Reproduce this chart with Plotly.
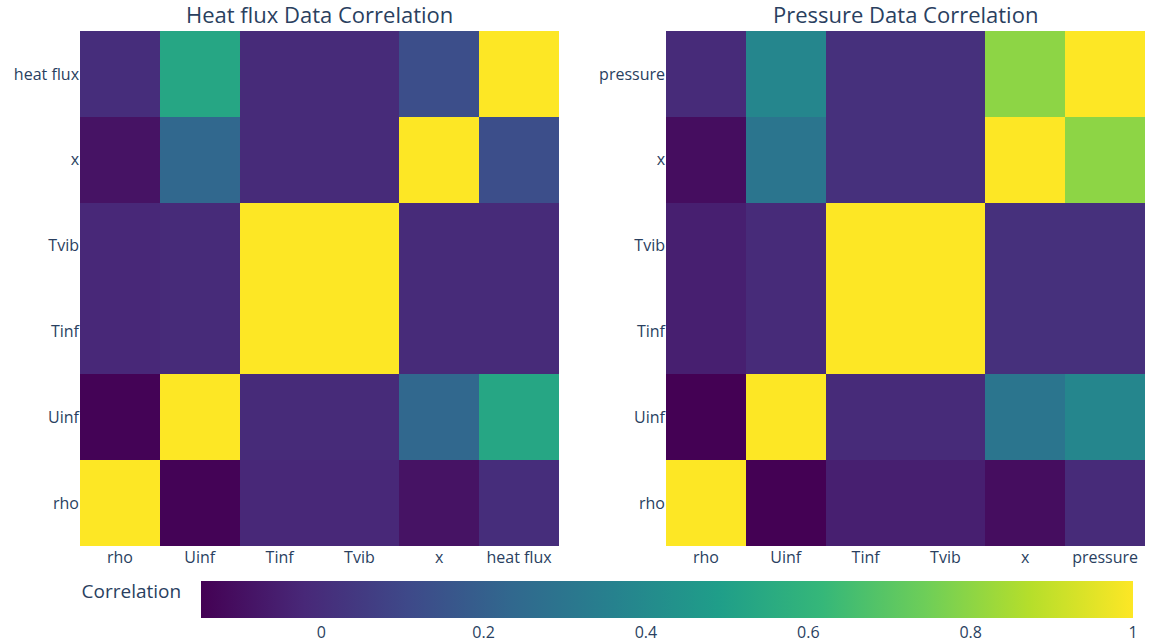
import plotly.graph_objects as go
from plotly.subplots import make_subplots

# Variables in each correlation matrix
heat_vars = ["rho", "Uinf", "Tinf", "Tvib", "x", "heat flux"]
pres_vars = ["rho", "Uinf", "Tinf", "Tvib", "x", "pressure"]

# Correlation matrix for the heat flux data (rows follow heat_vars)
heat_corr = [
    [1.00, -0.14, -0.02, -0.02, -0.09, 0.00],
    [-0.14, 1.00, -0.01, -0.01, 0.235, 0.53],
    [-0.02, -0.01, 1.00, 1.00, -0.01, -0.01],
    [-0.02, -0.01, 1.00, 1.00, -0.01, -0.01],
    [-0.09, 0.235, -0.01, -0.01, 1.00, 0.127],
    [0.00, 0.53, -0.01, -0.01, 0.127, 1.00],
]

# Correlation matrix for the pressure data (rows follow pres_vars)
pres_corr = [
    [1.00, -0.148, -0.05, -0.05, -0.11, -0.01],
    [-0.148, 1.00, -0.01, -0.01, 0.30, 0.38],
    [-0.05, -0.01, 1.00, 1.00, 0.01, 0.01],
    [-0.05, -0.01, 1.00, 1.00, 0.01, 0.01],
    [-0.11, 0.30, 0.01, 0.01, 1.00, 0.80],
    [-0.01, 0.38, 0.01, 0.01, 0.80, 1.00],
]

W, H = 1150, 643
MB = 97                 # bottom margin holds the colorbar
PH = H - MB             # plot-area height in pixels


def py(pix):
    """Convert a pixel row (from the top) to plot-area y fraction."""
    return (PH - pix) / PH


fig = make_subplots(
    rows=1, cols=2,
    subplot_titles=("Heat flux Data Correlation", "Pressure Data Correlation"),
)

fig.add_trace(
    go.Heatmap(z=heat_corr, x=heat_vars, y=heat_vars, coloraxis="coloraxis"),
    row=1, col=1,
)
fig.add_trace(
    go.Heatmap(z=pres_corr, x=pres_vars, y=pres_vars, coloraxis="coloraxis"),
    row=1, col=2,
)

fig.update_layout(
    width=W,
    height=H,
    margin=dict(l=0, r=0, t=0, b=MB),
    template="plotly_white",
    font=dict(family="Open Sans, verdana, arial, sans-serif", size=16, color="#2a3f5f"),
    coloraxis=dict(
        colorscale="Viridis",
        colorbar=dict(
            orientation="h",
            title=dict(text="Correlation", side="right", font=dict(size=19)),
            x=82 / W, xanchor="left",
            len=1061 / W, lenmode="fraction",
            y=py(581), yanchor="top",
            ypad=0,
            thickness=37,
            outlinewidth=0,
            tickfont=dict(size=16),
        ),
    ),
    xaxis=dict(domain=[80 / W, 559 / W], showgrid=False, zeroline=False),
    xaxis2=dict(domain=[666 / W, 1145 / W], showgrid=False, zeroline=False),
    yaxis=dict(domain=[py(546), py(31)], showgrid=False, zeroline=False),
    yaxis2=dict(domain=[py(546), py(31)], showgrid=False, zeroline=False),
)

# Position the subplot titles over their panels
for ann, xc in zip(fig.layout.annotations, [(80 + 559) / 2 / W, (666 + 1145) / 2 / W]):
    ann.update(x=xc, y=py(31), yanchor="bottom", font=dict(size=22, color="#2a3f5f"))

fig.write_html("out.html")
